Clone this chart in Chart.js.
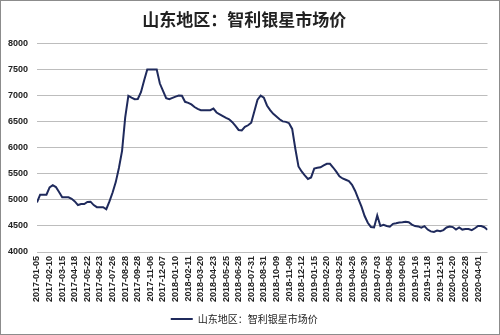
<!DOCTYPE html>
<html>
<head>
<meta charset="utf-8">
<title>山东地区：智利银星市场价</title>
<script src="https://cdn.jsdelivr.net/npm/chart.js@4/dist/chart.umd.min.js"></script>
<style>
  html, body { margin: 0; padding: 0; background: #fff; }
  #wrap { width: 500px; height: 335px; box-sizing: border-box; border: 1px solid #8c8c8c; background: #fff; }
  canvas { display: block; }
</style>
</head>
<body>
<div id="wrap"><canvas id="chart" width="498" height="333"></canvas></div>
<script>
// Chart text
const chartTitle = '山东地区：智利银星市场价';
const seriesName = '山东地区：智利银星市场价';

// Dates shown on the x axis (one label every ~month of trading days)
const tickDates = [
    '2017-01-05', '2017-02-10', '2017-03-15', '2017-04-18', '2017-05-22', '2017-06-23',
    '2017-07-26', '2017-08-28', '2017-09-28', '2017-11-06', '2017-12-07', '2018-01-10',
    '2018-02-11', '2018-03-20', '2018-04-23', '2018-05-25', '2018-06-28', '2018-07-31',
    '2018-08-31', '2018-10-09', '2018-11-09', '2018-12-12', '2019-01-15', '2019-02-20',
    '2019-03-25', '2019-04-26', '2019-05-30', '2019-07-03', '2019-08-05', '2019-09-05',
    '2019-10-16', '2019-11-18', '2019-12-19', '2020-01-20', '2020-02-28', '2020-04-01'
];

// Price samples, 4 per label interval
const samplesPerTick = 4;
const prices = [
    4950, 5100, 5100, 5100, 5240, 5280, 5245, 5150, 5050, 5050, 5050, 5020,
    4970, 4900, 4920, 4920, 4960, 4965, 4900, 4860, 4860, 4860, 4820, 4970,
    5140, 5340, 5610, 5940, 6580, 6995, 6960, 6930, 6935, 7065, 7290, 7500,
    7500, 7500, 7500, 7230, 7090, 6950, 6930, 6955, 6980, 7000, 6995, 6880,
    6860, 6830, 6780, 6745, 6720, 6720, 6720, 6720, 6750, 6675, 6640, 6605,
    6570, 6545, 6490, 6420, 6340, 6330, 6400, 6430, 6480, 6700, 6920, 7000,
    6960, 6810, 6720, 6650, 6600, 6545, 6505, 6495, 6470, 6360, 5980, 5640,
    5545, 5470, 5400, 5430, 5600, 5615, 5625, 5660, 5690, 5690, 5620, 5540,
    5450, 5410, 5385, 5360, 5290, 5170, 5020, 4870, 4690, 4560, 4480, 4470,
    4700, 4500, 4520, 4500, 4485, 4540, 4550, 4565, 4570, 4580, 4570, 4525,
    4497, 4490, 4465, 4495, 4430, 4395, 4385, 4410, 4400, 4420, 4470, 4490,
    4478, 4430, 4470, 4430, 4440, 4440, 4420, 4455, 4500, 4497, 4475, 4425
];

// Y axis range
const yMin = 4000;
const yMax = 8000;
const yStep = 500;

const lineColor = '#1f2a5c';
const fontFamily = '"Liberation Sans", Arial, sans-serif';
const cjkFont = '"Noto Sans CJK SC", sans-serif';

// Build points: x is position in label intervals
let points = prices.map((p, i) => ({ x: i / samplesPerTick, y: p }));

let ctx = document.getElementById('chart').getContext('2d');
let chart = new Chart(ctx, {
    type: 'line',
    data: {
        datasets: [{
            label: seriesName,
            data: points,
            borderColor: lineColor,
            backgroundColor: lineColor,
            borderWidth: 2,
            pointRadius: 0,
            pointStyle: 'line',
            tension: 0,
            fill: false
        }]
    },
    options: {
        responsive: false,
        animation: false,
        layout: {
            padding: { left: 0, right: 11.5, top: 0, bottom: 0 }
        },
        plugins: {
            title: {
                display: true,
                text: chartTitle,
                color: '#222',
                font: { family: cjkFont, size: 17, weight: 'bold' },
                padding: { top: 8, bottom: 14 }
            },
            legend: {
                display: true,
                position: 'bottom',
                labels: {
                    color: '#222',
                    font: { family: cjkFont, size: 10 },
                    usePointStyle: true,
                    pointStyleWidth: 22,
                    boxHeight: 10,
                    padding: 10
                }
            },
            tooltip: { enabled: false }
        },
        scales: {
            x: {
                type: 'linear',
                min: 0,
                max: (prices.length - 1) / samplesPerTick,
                afterBuildTicks: (scale) => {
                    scale.ticks = tickDates.map((d, k) => ({ value: k }));
                },
                afterFit: (scale) => {
                    scale.height = 52;
                },
                grid: { display: false, drawTicks: false },
                border: { display: false },
                ticks: {
                    autoSkip: false,
                    minRotation: 90,
                    maxRotation: 90,
                    padding: 4,
                    color: '#222',
                    font: { family: fontFamily, size: 9, weight: 'bold' },
                    callback: (value) => tickDates[value] ?? ''
                }
            },
            y: {
                min: yMin,
                max: yMax,
                afterFit: (scale) => {
                    scale.width = 36;
                },
                grid: { color: '#bdbdbd', lineWidth: 1, drawTicks: false },
                border: { display: false },
                ticks: {
                    stepSize: yStep,
                    padding: 9,
                    color: '#222',
                    font: { family: fontFamily, size: 9, weight: 'bold' },
                    callback: (value) => String(value)
                }
            }
        }
    }
});
</script>
</body>
</html>
